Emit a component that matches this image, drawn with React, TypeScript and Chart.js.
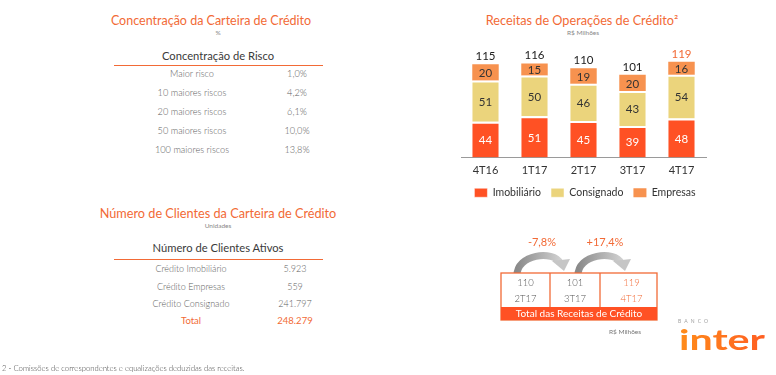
import React, { useEffect, useRef } from "react";
import { Chart, registerables } from "chart.js";
Chart.register(...registerables);

const FONT = "Lato, 'Open Sans', sans-serif";
const ORANGE = "#F26A36";

// Bar chart data
const quarters = ["4T16", "1T17", "2T17", "3T17", "4T17"];
const imobiliario = [44, 51, 45, 39, 48];
const consignado = [51, 50, 46, 43, 54];
const empresas = [20, 15, 19, 20, 16];
const totals = [115, 116, 110, 101, 119];

// Tables
const riskLabels = ["Maior risco", "10 maiores riscos", "20 maiores riscos", "50 maiores riscos", "100 maiores riscos"];
const riskValues = ["1,0%", "4,2%", "6,1%", "10,0%", "13,8%"];
const clientLabels = ["Crédito Imobiliário", "Crédito Empresas", "Crédito Consignado"];
const clientValues = ["5.923", "559", "241.797"];
const clientTotal = "248.279";

// Flow
const flowQuarters = ["2T17", "3T17", "4T17"];
const flowValues = ["110", "101", "119"];
const flowChanges = ["-7,8%", "+17,4%"];

function T({ x, y, size, color = "#555", weight = 400, align = "center", children, family = FONT, spacing = 0 }: any) {
  const tx = align === "center" ? "-50%" : align === "right" ? "-100%" : "0";
  return (
    <div
      style={{
        position: "absolute",
        left: x,
        top: y,
        transform: `translate(${tx},-50%)`,
        fontSize: size,
        color,
        fontWeight: weight,
        whiteSpace: "nowrap",
        fontFamily: family,
        lineHeight: 1,
        letterSpacing: spacing,
      }}
    >
      {children}
    </div>
  );
}

function BarChart() {
  const ref = useRef<HTMLCanvasElement>(null);
  useEffect(() => {
    const labelPlugin = {
      id: "stackLabels",
      afterDatasetsDraw(chart: any) {
        const ctx = chart.ctx;
        ctx.save();
        ctx.textAlign = "center";
        ctx.textBaseline = "middle";
        ctx.font = `11.5px ${FONT}`;
        chart.data.datasets.forEach((ds: any, di: number) => {
          const meta = chart.getDatasetMeta(di);
          meta.data.forEach((bar: any, i: number) => {
            const { x, y, base } = bar.getProps(["x", "y", "base"], true);
            ctx.fillStyle = di === 0 ? "#ffffff" : "#333333";
            ctx.fillText(String(ds.data[i]), x, (y + base) / 2 + 1);
          });
        });
        const lastMeta = chart.getDatasetMeta(chart.data.datasets.length - 1);
        lastMeta.data.forEach((bar: any, i: number) => {
          const { x, y } = bar.getProps(["x", "y"], true);
          ctx.fillStyle = i === totals.length - 1 ? ORANGE : "#222222";
          ctx.fillText(String(totals[i]), x, y - 8);
        });
        ctx.restore();
      },
    };
    const hiddenAxis = (w: number, position: string) => ({
      position,
      display: true,
      min: 0,
      max: 140,
      stacked: true,
      grid: { display: false },
      border: { display: false },
      ticks: { display: false },
      afterFit: (s: any) => {
        s.width = w;
      },
    });
    const chart = new Chart(ref.current as HTMLCanvasElement, {
      type: "bar",
      data: {
        labels: quarters,
        datasets: [
          { label: "Imobiliário", data: imobiliario, backgroundColor: "#FF5124", borderColor: "#ffffff", borderWidth: { top: 2, left: 0, right: 0, bottom: 0 } as any, borderSkipped: false as any },
          { label: "Consignado", data: consignado, backgroundColor: "#EBD47C", borderColor: "#ffffff", borderWidth: { top: 2, left: 0, right: 0, bottom: 0 } as any, borderSkipped: false as any },
          { label: "Empresas", data: empresas, backgroundColor: "#F7924F", borderColor: "#ffffff", borderWidth: { top: 0, left: 0, right: 0, bottom: 0 } as any, borderSkipped: false as any },
        ],
      },
      options: {
        animation: false,
        responsive: false,
        maintainAspectRatio: false,
        datasets: { bar: { barPercentage: 0.54, categoryPercentage: 1 } },
        layout: { padding: { left: 0, right: 0, top: 4, bottom: 0 } },
        plugins: {
          legend: {
            position: "bottom",
            labels: { boxWidth: 13, boxHeight: 9, font: { size: 10.5, family: FONT }, color: "#333", padding: 10 },
          },
          tooltip: { enabled: false },
        },
        scales: {
          x: {
            stacked: true,
            grid: { display: false, drawTicks: false },
            border: { color: "#9a9a9a", width: 1 },
            ticks: { color: "#333", font: { size: 11, family: FONT }, padding: 6 },
            afterFit: (s: any) => {
              s.height = 20;
            },
          } as any,
          y: hiddenAxis(36, "left") as any,
          y2: hiddenAxis(39, "right") as any,
        },
      },
      plugins: [labelPlugin],
    });
    return () => chart.destroy();
  }, []);
  return <canvas ref={ref} width={320} height={168} style={{ position: "absolute", left: 425, top: 40, width: 320, height: 168 }} />;
}

function FlowBox() {
  const cells = [
    [501, 550],
    [550, 600],
    [600, 657],
  ];
  return (
    <svg width={776} height={375} style={{ position: "absolute", left: 0, top: 0 }}>
      <defs>
        <linearGradient id="ag" x1="0" y1="0" x2="1" y2="0">
          <stop offset="0" stopColor="#8a8a8a" />
          <stop offset="1" stopColor="#cfcfcf" />
        </linearGradient>
        <linearGradient id="lg" x1="0" y1="0" x2="1" y2="0">
          <stop offset="0" stopColor="#FF8C1A" />
          <stop offset="1" stopColor="#FF5E22" />
        </linearGradient>
      </defs>
      {/* arrows */}
      <path d="M 517 276 C 516 254, 554 250, 560 263" stroke="url(#ag)" strokeWidth={7} fill="none" />
      <polygon points="552,261 570,259 564,271" fill="#c6c6c6" />
      <path d="M 578 276 C 577 254, 615 250, 621 263" stroke="url(#ag)" strokeWidth={7} fill="none" />
      <polygon points="613,261 631,259 625,271" fill="#c6c6c6" />
      <text x={542} y={246} textAnchor="middle" fontSize={11} fill={ORANGE} fontFamily={FONT}>{flowChanges[0]}</text>
      <text x={605} y={246} textAnchor="middle" fontSize={11} fill={ORANGE} fontFamily={FONT}>{flowChanges[1]}</text>
      {/* box */}
      <rect x={501} y={273} width={156} height={47} fill="#fff" stroke={ORANGE} strokeWidth={1.3} />
      <line x1={550} y1={273} x2={550} y2={307} stroke={ORANGE} strokeWidth={1.3} />
      <line x1={600} y1={273} x2={600} y2={307} stroke={ORANGE} strokeWidth={1.3} />
      <rect x={501} y={307} width={156} height={13} fill="#FF5124" />
      {cells.map((c, i) => {
        const cx = (c[0] + c[1]) / 2 + (i === 2 ? 3 : 0);
        const col = i === 2 ? ORANGE : "#555";
        return (
          <g key={i}>
            <text x={cx} y={285.5} textAnchor="middle" fontSize={9.5} fontWeight={300} fill={col} fontFamily={FONT}>{flowValues[i]}</text>
            <text x={cx} y={301.5} textAnchor="middle" fontSize={9.5} fontWeight={300} fill={col} fontFamily={FONT}>{flowQuarters[i]}</text>
          </g>
        );
      })}
      <text x={579} y={317} textAnchor="middle" fontSize={10} fill="#fff" fontFamily={FONT}>Total das Receitas de Crédito</text>
      <text x={625} y={334} textAnchor="middle" fontSize={6.5} fill="#777" fontFamily={FONT}>R$ Milhões</text>
      {/* logo */}
      <text x={678} y={322.5} fontSize={5} fill="#a0a0a0" fontFamily={FONT} textLength={30} lengthAdjust="spacing">BANCO</text>
      <text x={679} y={350} fontSize={28} fontWeight={700} fill="url(#lg)" fontFamily={FONT} textLength={86} lengthAdjust="spacingAndGlyphs">inter</text>
    </svg>
  );
}

export default function App() {
  useEffect(() => {
    document.body.style.margin = "0";
  }, []);
  const rowCol = "#5e5e5e";
  return (
    <div style={{ position: "fixed", left: 0, top: 0, width: 776, height: 375, background: "#fff", overflow: "hidden", fontFamily: FONT }}>
      {/* Left top */}
      <T x={211} y={21} size={12.5} color={ORANGE}>Concentração da Carteira de Crédito</T>
      <T x={218} y={33} size={6.5} color="#888">%</T>
      <T x={218} y={56} size={11.2} color="#3a3a3a">Concentração de Risco</T>
      <div style={{ position: "absolute", left: 114, top: 64.5, width: 209, height: 1.5, background: ORANGE }} />
      {riskLabels.map((l, i) => (
        <React.Fragment key={l}>
          <T x={192} y={74 + i * 19} size={9.2} weight={300} color={rowCol}>{l}</T>
          <T x={297} y={74 + i * 19} size={9.2} weight={300} color={rowCol}>{riskValues[i]}</T>
        </React.Fragment>
      ))}
      {/* Left bottom */}
      <T x={218} y={213} size={12.7} color={ORANGE}>Número de Clientes da Carteira de Crédito</T>
      <T x={218} y={226} size={6.5} color="#888">Unidades</T>
      <T x={218} y={248} size={11.2} color="#3a3a3a">Número de Clientes Ativos</T>
      <div style={{ position: "absolute", left: 114, top: 258.5, width: 209, height: 1.5, background: ORANGE }} />
      {clientLabels.map((l, i) => (
        <React.Fragment key={l}>
          <T x={191} y={268 + i * 17.7} size={9} weight={300} color={rowCol}>{l}</T>
          <T x={295} y={268 + i * 17.7} size={9} weight={300} color={rowCol}>{clientValues[i]}</T>
        </React.Fragment>
      ))}
      <T x={191} y={321} size={9.5} color={ORANGE}>Total</T>
      <T x={295} y={321} size={9.5} color={ORANGE}>{clientTotal}</T>
      {/* Right top */}
      <T x={582} y={20} size={12.7} color={ORANGE}>Receitas de Operações de Crédito²</T>
      <T x={583} y={33} size={6.5} color="#888">R$ Milhões</T>
      <BarChart />
      <FlowBox />
      <T x={2} y={369} size={7.7} weight={300} color="#444" align="left">2 - Comissões de correspondentes e equalizações deduzidas das receitas.</T>
    </div>
  );
}
